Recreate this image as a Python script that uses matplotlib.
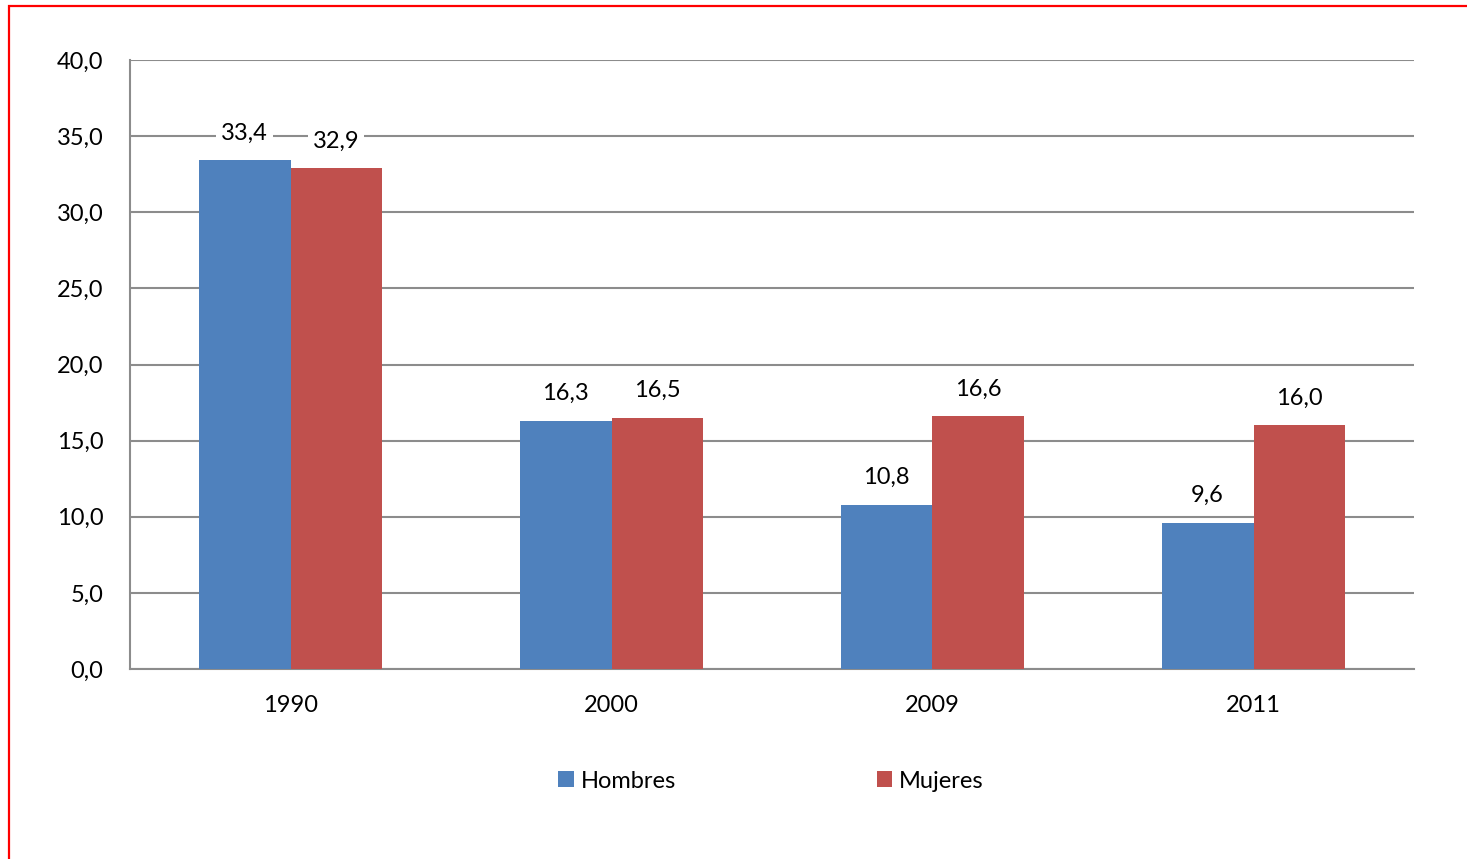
import matplotlib.pyplot as plt
import numpy as np
from matplotlib.patches import Rectangle

plt.rcParams['font.family'] = ['Lato', 'DejaVu Sans']

years = ["1990", "2000", "2009", "2011"]
hombres = [33.4, 16.3, 10.8, 9.6]
mujeres = [32.9, 16.5, 16.6, 16.0]
yticks = [0, 5, 10, 15, 20, 25, 30, 35, 40]

blue = "#4F81BD"
red = "#C0504D"
grid_c = "#8C8C8C"
fs = 17

fig = plt.figure(figsize=(14.67, 8.59), dpi=100)
ax = fig.add_axes([130 / 1467, 1 - 669 / 859, (1414 - 130) / 1467, (669 - 60) / 859])

x = np.arange(len(years))
w = 0.286
b1 = ax.bar(x - w / 2, hombres, w, color=blue, label="Hombres", zorder=3)
b2 = ax.bar(x + w / 2, mujeres, w, color=red, label="Mujeres", zorder=3)

for bars, vals in ((b1, hombres), (b2, mujeres)):
    for rect, v in zip(bars, vals):
        ax.annotate(f"{v:.1f}".replace(".", ","),
                    (rect.get_x() + rect.get_width() / 2, v),
                    xytext=(0, 27), textcoords="offset pixels",
                    ha="center", va="center", fontsize=fs, color="black",
                    bbox=dict(boxstyle="square,pad=0.2", fc="white", ec="none"),
                    zorder=5)

ax.set_xlim(-0.5, len(years) - 0.5)
ax.set_ylim(0, 40)
ax.set_yticks(yticks)
ax.set_yticklabels([f"{t:.1f}".replace(".", ",") for t in yticks], fontsize=fs)
ax.set_xticks(x)
ax.set_xticklabels(years, fontsize=fs)
ax.tick_params(axis="both", length=0)
ax.tick_params(axis="y", pad=19)
ax.tick_params(axis="x", pad=19)
ax.yaxis.grid(True, color=grid_c, linewidth=1.5, zorder=0)
ax.set_axisbelow(True)
for s in ("top", "right"):
    ax.spines[s].set_visible(False)
for s in ("left", "bottom"):
    ax.spines[s].set_color(grid_c)
    ax.spines[s].set_linewidth(1.5)

fig.legend(handles=[b1, b2], loc="center", bbox_to_anchor=(771 / 1467, 1 - 781 / 859),
           ncol=2, frameon=False, fontsize=fs, handlelength=0.65, handleheight=0.65,
           handletextpad=0.3, columnspacing=8.5)

fig.patches.append(Rectangle((9 / 1467, -0.1), 1.2, 1 - 6 / 859 + 0.1,
                             transform=fig.transFigure, fill=False,
                             edgecolor="#FF0000", linewidth=1.6))

fig.savefig("out.png", dpi=100)
